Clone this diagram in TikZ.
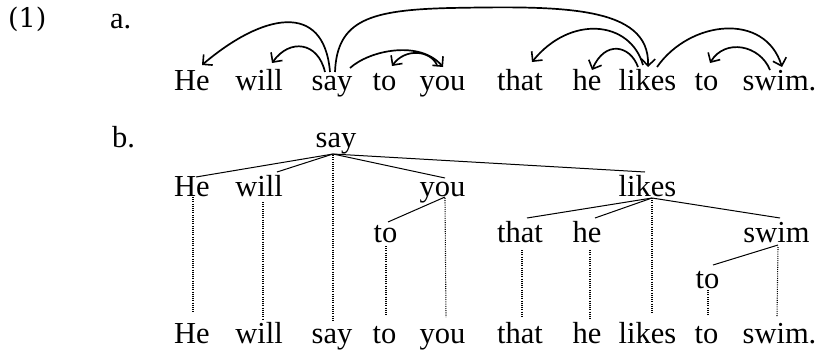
\documentclass[tikz,border=0pt]{standalone}
\usepackage{fontspec}
\setmainfont{Liberation Serif}
\newfontfamily\numfont{DejaVu Serif}
\usetikzlibrary{arrows.meta,calc}
\tikzset{
  word/.style={anchor=base,inner sep=0pt,font=\fontsize{30.5}{36}\selectfont},
  lbl/.style={anchor=base west,inner sep=0pt,font=\fontsize{30.5}{36}\selectfont},
  arc/.style={line width=1.7pt,-{Straight Barb[length=7pt,width=14pt,line width=1.6pt]}},
  branch/.style={line width=1pt},
  proj/.style={line width=1.1pt,dash pattern=on 1pt off 1.2pt}
}
\begin{document}
\begin{tikzpicture}[x=1pt,y=-1pt]
\useasboundingbox (0,0) rectangle (817,351);
% labels
\node[anchor=base west,inner sep=0pt,font=\numfont\fontsize{27}{32}\selectfont] (num) at (8,27) {(1)};
\node[lbl] (la) at (110,28) {a.};
\node[lbl] (lb) at (112,147) {b.};
% row a
\node[word] (aHe) at (192,90) {He};
\node[word] (aWill) at (259,90) {will};
\node[word] (aSay) at (332,90) {say};
\node[word] (aTo) at (384.5,90) {to};
\node[word] (aYou) at (442.5,90) {you};
\node[word] (aThat) at (520,90) {that};
\node[word] (aHe2) at (587,90) {he};
\node[word] (aLikes) at (647.5,90) {likes};
\node[word] (aTo2) at (706.5,90) {to};
\node[word] (aSwim) at (779.5,90) {swim.};
% arcs
\draw[arc] ($(aSay.base)+(-2,-18)$) .. controls (324,0) and (262,14) .. ($(aHe.base)+(10,-25)$);
\draw[arc] ($(aSay.base)+(-7,-18)$) .. controls (318,42) and (290,38) .. ($(aWill.base)+(13,-27)$);
\draw[arc] ($(aSay.base)+(3,-18)$) .. controls (337,20) and (370,10) .. (450,8)
   .. controls (560,6) and (650,5) .. ($(aLikes.base)+(0.5,-23)$);
\draw[arc] ($(aSay.base)+(18,-22)$) .. controls (370,50) and (420,40) .. ($(aYou.base)+(0.5,-23)$);
\draw[arc] ($(aYou.base)+(-5.5,-25)$) .. controls (430,50) and (405,48) .. ($(aTo.base)+(7.5,-24)$);
\draw[arc] ($(aLikes.base)+(-4.5,-25)$) .. controls (630,20) and (570,15) .. ($(aThat.base)+(12,-28)$);
\draw[arc] ($(aLikes.base)+(-9.5,-23)$) .. controls (630,45) and (605,40) .. ($(aHe2.base)+(5,-20)$);
\draw[arc] ($(aLikes.base)+(9.5,-23)$) .. controls (690,20) and (765,12) .. ($(aSwim.base)+(2.5,-23)$);
\draw[arc] ($(aSwim.base)+(-9.5,-20)$) .. controls (760,45) and (725,38) .. ($(aTo2.base)+(3.5,-27)$);
% tree b
\node[word] (bSay) at (336,147) {say};
\node[word] (bHe) at (192,196) {He};
\node[word] (bWill) at (259,196) {will};
\node[word] (bYou) at (442.5,196) {you};
\node[word] (bLikes) at (647.5,196) {likes};
\node[word] (bTo) at (385.5,242) {to};
\node[word] (bThat) at (520,242) {that};
\node[word] (bHe2) at (587,242) {he};
\node[word] (bSwim) at (776.5,242) {swim};
\node[word] (bTo2) at (707.5,288) {to};
% bottom row
\node[word] (cHe) at (192,343) {He};
\node[word] (cWill) at (259,343) {will};
\node[word] (cSay) at (332,343) {say};
\node[word] (cTo) at (384.5,343) {to};
\node[word] (cYou) at (442.5,343) {you};
\node[word] (cThat) at (520,343) {that};
\node[word] (cHe2) at (587,343) {he};
\node[word] (cLikes) at (647.5,343) {likes};
\node[word] (cTo2) at (706.5,343) {to};
\node[word] (cSwim) at (779.5,343) {swim.};
% branches
\draw[branch] ($(bSay.base)+(-3,7)$) -- ($(bHe.base)+(4,-19)$);
\draw[branch] ($(bSay.base)+(-3,7)$) -- ($(bWill.base)+(18,-24)$);
\draw[branch] ($(bSay.base)+(-3,7)$) -- ($(bYou.base)+(2.5,-18)$);
\draw[branch] ($(bSay.base)+(-3,7)$) -- ($(bLikes.base)+(-2.5,-24)$);
\draw[branch] ($(bYou.base)+(2.5,1)$) -- ($(bTo.base)+(2.5,-20)$);
\draw[branch] ($(bLikes.base)+(4.5,2)$) -- ($(bThat.base)+(7,-24)$);
\draw[branch] ($(bLikes.base)+(4.5,2)$) -- ($(bHe2.base)+(8,-24)$);
\draw[branch] ($(bLikes.base)+(4.5,2)$) -- ($(bSwim.base)+(3.5,-24)$);
\draw[branch] ($(bSwim.base)+(1.5,3)$) -- ($(bTo2.base)+(5.5,-23)$);
% projection lines
\draw[proj] ($(bSay.base)+(-3,8)$) -- ($(cSay.base)+(1,-21)$);
\draw[proj] ($(bHe.base)+(1,1)$) -- ($(cHe.base)+(1,-30)$);
\draw[proj] ($(bWill.base)+(4,6)$) -- ($(cWill.base)+(4,-23)$);
\draw[proj] ($(bYou.base)+(2.5,2)$) -- ($(cYou.base)+(3.5,-26)$);
\draw[proj] ($(bTo.base)+(0.5,4)$) -- ($(cTo.base)+(1.5,-28)$);
\draw[proj] ($(bLikes.base)+(4.5,2)$) -- ($(cLikes.base)+(4.5,-30)$);
\draw[proj] ($(bThat.base)+(2,8)$) -- ($(cThat.base)+(2,-25)$);
\draw[proj] ($(bHe2.base)+(3,8)$) -- ($(cHe2.base)+(3,-23)$);
\draw[proj] ($(bSwim.base)+(1.5,5)$) -- ($(cSwim.base)+(-2.5,-26)$);
\draw[proj] ($(bTo2.base)+(0.5,2)$) -- ($(cTo2.base)+(1.5,-28)$);
\end{tikzpicture}
\end{document}
